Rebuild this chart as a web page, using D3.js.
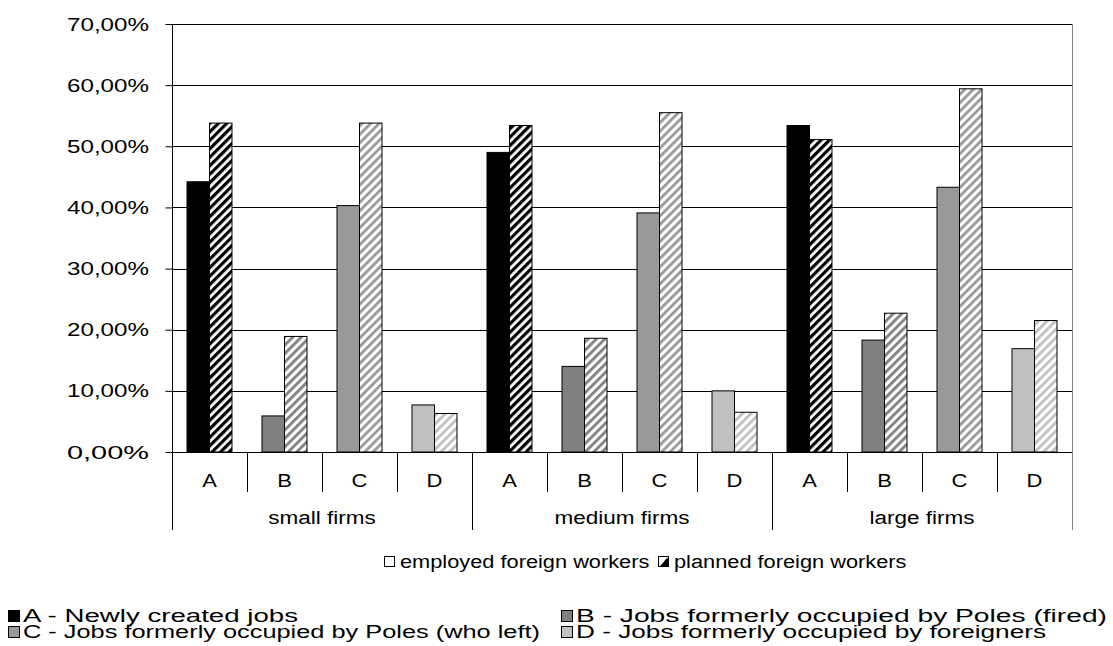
<!DOCTYPE html>
<html><head><meta charset="utf-8">
<script src="https://cdn.jsdelivr.net/npm/d3@7"></script>
<style>
html,body{margin:0;padding:0;background:#fff;}
svg{display:block;font-family:"Liberation Sans",Arial,sans-serif;}
</style></head>
<body><svg id="chart" width="1113" height="646"></svg>
<script>
// ---- data ----
const groups = ["small firms", "medium firms", "large firms"];
const categories = ["A", "B", "C", "D"];
const seriesNames = ["employed foreign workers", "planned foreign workers"];
// values in percent, order: small A-D, medium A-D, large A-D
const employed = [44.2, 5.9, 40.3, 7.7, 49.0, 14.0, 39.1, 10.0, 53.4, 18.3, 43.3, 16.9];
const planned  = [53.8, 18.9, 53.8, 6.3, 53.4, 18.6, 55.5, 6.5, 51.1, 22.7, 59.4, 21.5];
const yTicks = [0, 10, 20, 30, 40, 50, 60, 70];
const categoryLegend = [
  "A - Newly created jobs",
  "B - Jobs formerly occupied by Poles (fired)",
  "C - Jobs formerly occupied by Poles (who left)",
  "D - Jobs formerly occupied by foreigners"
];
const catColors = ["#000000", "#808080", "#999999", "#c0c0c0"];

// ---- setup ----
const svg = d3.select("#chart");
const pLeft = 172, pRight = 1072, pTop = 24, pBottom = 452;
const cells = d3.range(groups.length * categories.length);
const x0 = d3.scaleBand().domain(cells).range([pLeft, pRight]);
const x1 = d3.scaleBand().domain(seriesNames).range([15, 60]);
const y = d3.scaleLinear().domain([0, 70]).range([pBottom, pTop]);
const loc = d3.formatLocale({decimal: ",", thousands: " ", grouping: [3], currency: ["", ""]});
const fmt = v => loc.format(".2f")(v) + "%";

function sText(g, str, x, yy, size, anchor, opt) {
  const t = g.append("text").attr("x", x).attr("y", yy)
    .attr("font-size", size).attr("fill", "#000").text(str);
  const w0 = t.node().getComputedTextLength();
  const w = opt.width ? opt.width : w0 * (opt.factor || 1.25);
  t.attr("textLength", w).attr("lengthAdjust", "spacingAndGlyphs");
  const xs = anchor === "middle" ? x - w / 2 : anchor === "end" ? x - w : x;
  t.attr("x", xs);
  return {node: t, width: w};
}

// ---- patterns ----
const defs = svg.append("defs");
catColors.forEach((c, i) => {
  const p = defs.append("pattern").attr("id", "hatch" + i)
    .attr("patternUnits", "userSpaceOnUse").attr("width", 6).attr("height", 6)
    .attr("patternTransform", "rotate(45)");
  p.append("rect").attr("width", 6).attr("height", 6).attr("fill", "#fff");
  p.append("rect").attr("x", 0).attr("width", i === 0 ? 3.2 : 2.8).attr("height", 6).attr("fill", c);
});

// ---- gridlines ----
svg.append("g").selectAll("line").data(yTicks).join("line")
  .attr("x1", pLeft).attr("x2", pRight)
  .attr("y1", d => Math.round(y(d)) + 0.5).attr("y2", d => Math.round(y(d)) + 0.5)
  .attr("stroke", "#000").attr("stroke-width", 1);

// right border
svg.append("line").attr("x1", pRight + 0.5).attr("x2", pRight + 0.5)
  .attr("y1", pTop).attr("y2", 530).attr("stroke", "#808080");

// ---- bars ----
const barG = svg.append("g");
cells.forEach(i => {
  const ci = i % categories.length;
  const vals = [employed[i], planned[i]];
  seriesNames.forEach((s, si) => {
    const v = vals[si];
    barG.append("rect")
      .attr("x", x0(i) + x1(s))
      .attr("y", y(v))
      .attr("width", x1.bandwidth())
      .attr("height", y(0) - y(v))
      .attr("fill", si === 0 ? catColors[ci] : "url(#hatch" + ci + ")")
      .attr("stroke", "#000").attr("stroke-width", 1);
  });
});

// ---- y axis ----
const yAxis = svg.append("g").attr("transform", `translate(${pLeft + 0.5},0)`)
  .call(d3.axisLeft(y).tickValues(yTicks).tickSize(7).tickFormat(fmt));
yAxis.select(".domain").attr("stroke", "#000").attr("d", `M0,${pTop}V${pBottom}`);
yAxis.selectAll(".tick line").attr("stroke", "#000");
yAxis.selectAll(".tick text").remove();
const yLab = svg.append("g");
yTicks.forEach(t => sText(yLab, fmt(t), 149, y(t) + 6.5, 18, "end", {width: 82}));

// ---- x axis ----
svg.append("line").attr("x1", pLeft).attr("x2", pRight)
  .attr("y1", pBottom + 0.5).attr("y2", pBottom + 0.5).attr("stroke", "#000");
const sepIdx = d3.range(cells.length + 1);
svg.append("g").selectAll("line").data(sepIdx).join("line")
  .attr("x1", d => Math.round(d < cells.length ? x0(d) : pRight) + 0.5)
  .attr("x2", d => Math.round(d < cells.length ? x0(d) : pRight) + 0.5)
  .attr("y1", pBottom).attr("y2", d => d % categories.length === 0 ? 530 : 492)
  .attr("stroke", d => d === cells.length ? "#808080" : "#000");
const xLab = svg.append("g");
cells.forEach(i => {
  sText(xLab, categories[i % categories.length], x0(i) + x0.bandwidth() / 2, 487, 18, "middle", {factor: 1.22});
});
groups.forEach((g, gi) => {
  const cx = x0(gi * categories.length) + x0.bandwidth() * categories.length / 2;
  sText(xLab, g, cx, 524, 18, "middle", {factor: 1.25});
});

// ---- series legend ----
const leg = svg.append("g");
leg.append("rect").attr("x", 384.5).attr("y", 556.5).attr("width", 10).attr("height", 10)
  .attr("fill", "#fff").attr("stroke", "#000");
const l1 = sText(leg, seriesNames[0], 400, 568, 18, "start", {factor: 1.21});
const sq2 = Math.round(400 + l1.width + 9);
leg.append("rect").attr("x", sq2 + 0.5).attr("y", 556.5).attr("width", 10).attr("height", 10)
  .attr("fill", "#fff").attr("stroke", "#000");
leg.append("path").attr("d", `M${sq2 + 10.5},557.5 L${sq2 + 10.5},566.5 L${sq2 + 1.5},566.5 L${sq2 + 4},564 L${sq2 + 8},559 Z`).attr("fill", "#000");
sText(leg, seriesNames[1], sq2 + 16, 568, 18, "start", {factor: 1.21});

// ---- category legend ----
const cl = svg.append("g");
const clPos = [
  {sx: 8, tx: 23, y: 622, w: 275},
  {sx: 561, tx: 576, y: 622, w: 531},
  {sx: 8, tx: 23, y: 638, w: 517},
  {sx: 561, tx: 576, y: 638, w: 470}
];
categoryLegend.forEach((t, i) => {
  const p = clPos[i];
  cl.append("rect").attr("x", p.sx + 0.5).attr("y", p.y - 11.5).attr("width", 11).attr("height", 11)
    .attr("fill", catColors[i]).attr("stroke", "#000");
  sText(cl, t, p.tx, p.y, 17.5, "start", {width: p.w});
});
</script></body></html>
